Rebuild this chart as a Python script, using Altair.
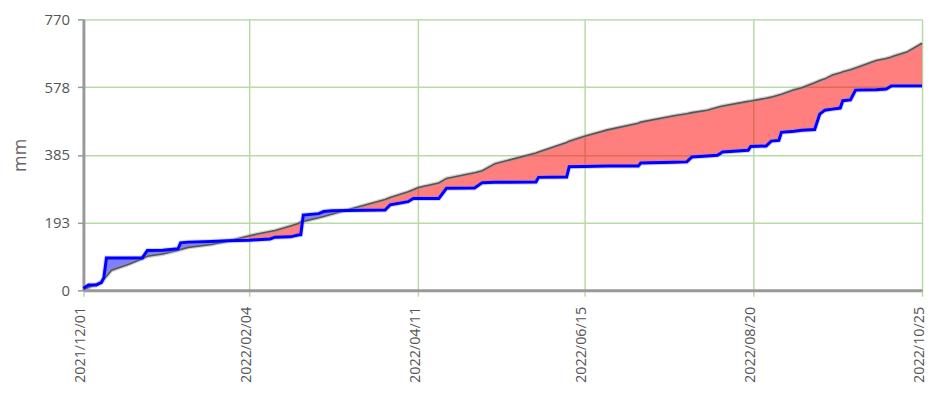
import altair as alt
import pandas as pd

DATES = [
    "2021-12-01", "2021-12-03", "2021-12-06", "2021-12-08", "2021-12-09", "2021-12-10",
    "2021-12-12", "2021-12-19", "2021-12-24", "2021-12-26", "2022-01-01", "2022-01-07",
    "2022-01-08", "2022-01-11", "2022-01-20", "2022-01-26", "2022-02-04", "2022-02-07",
    "2022-02-12", "2022-02-14", "2022-02-20", "2022-02-23", "2022-02-24", "2022-02-25",
    "2022-03-03", "2022-03-05", "2022-03-08", "2022-03-14", "2022-03-29", "2022-03-31",
    "2022-04-07", "2022-04-09", "2022-04-11", "2022-04-19", "2022-04-22", "2022-05-03",
    "2022-05-06", "2022-05-11", "2022-05-27", "2022-05-28", "2022-06-08", "2022-06-09",
    "2022-06-15", "2022-06-24", "2022-07-06", "2022-07-07", "2022-07-20", "2022-07-25",
    "2022-07-27", "2022-08-02", "2022-08-06", "2022-08-08", "2022-08-18", "2022-08-19",
    "2022-08-25", "2022-08-27", "2022-08-30", "2022-08-31", "2022-09-05", "2022-09-08",
    "2022-09-13", "2022-09-15", "2022-09-17", "2022-09-20", "2022-09-23", "2022-09-24",
    "2022-09-27", "2022-09-29", "2022-10-07", "2022-10-11", "2022-10-13", "2022-10-14",
    "2022-10-19", "2022-10-25",
]
NORMAL = [
    2, 8, 17, 24, 32, 40,
    57, 75, 90, 97, 103, 114,
    116, 122, 130, 139, 155, 160,
    167, 170, 183, 190, 194, 196,
    206, 210, 216, 228, 258, 264,
    280, 286, 292, 305, 318, 334,
    340, 360, 390, 393, 420, 424,
    438, 456, 475, 478, 496, 502,
    505, 512, 520, 524, 537, 538,
    546, 549, 555, 557, 570, 576,
    590, 596, 601, 612, 618, 621,
    627, 632, 653, 659, 663, 666,
    677, 702,
]
ACTUAL = [
    6, 15, 15, 22, 36, 92,
    92, 92, 92, 113, 114, 118,
    135, 137, 139, 141, 142, 144,
    146, 151, 152, 157, 158, 214,
    218, 224, 226, 227, 228, 243,
    252, 261, 261, 261, 290, 291,
    306, 307, 308, 321, 322, 351,
    352, 353, 353, 362, 364, 365,
    379, 382, 384, 393, 398, 409,
    410, 424, 426, 449, 452, 455,
    457, 501, 512, 515, 518, 539,
    541, 569, 570, 572, 581, 581,
    581, 581,
]
Y_TICKS = [0, 192.5, 385, 577.5, 770]
X_TICKS = ["2021-12-01", "2022-02-04", "2022-04-11", "2022-06-15", "2022-08-20", "2022-10-25"]

df = pd.DataFrame({"date": DATES, "normal": NORMAL, "actual": ACTUAL})


def dt(s):
    y, m, d = map(int, s.split("-"))
    return alt.DateTime(year=y, month=m, date=d, utc=True)


X = alt.X(
    "date:T",
    scale=alt.Scale(type="utc", domain=[dt(X_TICKS[0]), dt(X_TICKS[-1])]),
    axis=alt.Axis(
        values=[dt(s) for s in X_TICKS],
        format="%Y/%m/%d",
        labelAngle=270,
        labelAlign="right",
        labelBaseline="middle",
        labelFontSize=14.5,
        labelColor="#555555",
        labelFont="Open Sans",
        labelPadding=10,
        labelOffset=-3,
        tickColor="#b8dba5",
        tickSize=6,
        tickWidth=1.5,
        domainColor="#999999",
        domainWidth=3,
        gridColor="#b8dba5",
        gridWidth=1.5,
        labelOverlap=False,
        labelFlush=False,
    ),
    title=None,
)


def Y(field):
    return alt.Y(
        field,
        scale=alt.Scale(domain=[0, 770], nice=False, zero=True),
        axis=alt.Axis(
            values=Y_TICKS,
            format=".0f",
            labelFontSize=15,
            labelColor="#555555",
            labelFont="Open Sans",
            labelPadding=8,
            tickColor="#999999",
            tickSize=6,
            tickWidth=1.5,
            domainColor="#999999",
            domainWidth=3,
            gridColor="#b8dba5",
            gridWidth=1.5,
            title="mm",
            titleFontSize=18,
            titleColor="#666666",
            titleFont="Open Sans",
            titleFontWeight="normal",
            titlePadding=15,
            labelOverlap=False,
            labelFlush=False,
        ),
    )


base = alt.Chart(df).transform_calculate(top="max(datum.normal, datum.actual)")

red_area = base.mark_area(color="#ff0000", opacity=0.5).encode(
    x=X, y=Y("actual:Q"), y2="top:Q"
)
blue_area = base.mark_area(color="#0000ff", opacity=0.5).encode(
    x=X, y=Y("normal:Q"), y2="top:Q"
)
gray_shadow = base.mark_line(color="#999999", strokeWidth=4, opacity=0.45).encode(
    x=X, y=Y("normal:Q")
)
gray_line = base.mark_line(color="#555555", strokeWidth=1.6).encode(
    x=X, y=Y("normal:Q")
)
blue_shadow = base.mark_line(color="#8080ff", strokeWidth=5, opacity=0.35).encode(
    x=X, y=Y("actual:Q")
)
blue_line = base.mark_line(color="#0000ff", strokeWidth=3).encode(
    x=X, y=Y("actual:Q")
)

chart = (
    alt.layer(red_area, blue_area, gray_shadow, gray_line, blue_shadow, blue_line)
    .properties(
        width=845,
        height=273,
        autosize=alt.AutoSizeParams(type="none"),
        padding={"left": 76, "top": 10, "right": 6, "bottom": 103},
    )
    .configure_view(fill="#f2f2f2", stroke="#999999", strokeWidth=2)
    .configure(background="white")
)

chart.save("out.html", embed_options={"renderer": "svg", "actions": False})
